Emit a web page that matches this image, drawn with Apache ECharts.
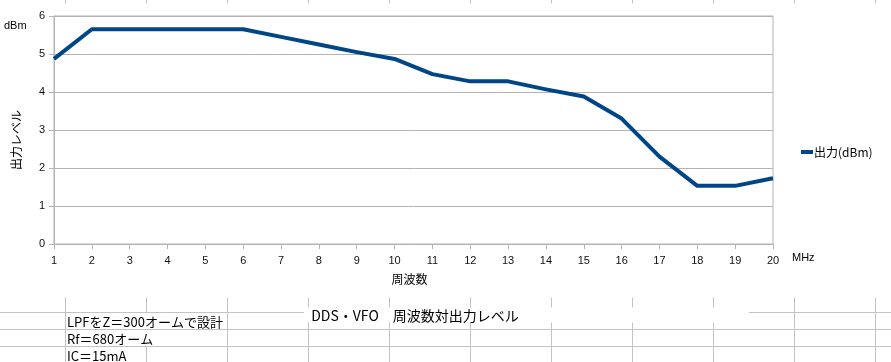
<!DOCTYPE html>
<html>
<head>
<meta charset="utf-8">
<script src="https://cdn.jsdelivr.net/npm/echarts@6/dist/echarts.min.js"></script>
<style>
html,body{margin:0;padding:0;background:#fff;}
#c{width:891px;height:362px;}
</style>
</head>
<body>
<div id="c"></div>
<script>
// ---- data ----
var categories = ['1','2','3','4','5','6','7','8','9','10','11','12','13','14','15','16','17','18','19','20'];
var outputDbm = [4.87, 5.65, 5.65, 5.65, 5.65, 5.65, 5.45, 5.25, 5.05, 4.87, 4.47, 4.28, 4.28, 4.07, 3.88, 3.3, 2.3, 1.53, 1.53, 1.73];
var seriesName = '出力(dBm)';
var chartTitle = 'DDS・VFO　周波数対出力レベル';
var xName = '周波数';
var yName = '出力レベル';
var yUnit = 'dBm';
var xUnit = 'MHz';
var notes = ['LPFをZ＝300オームで設計', 'Rf＝680オーム', 'IC＝15mA'];

// ---- spreadsheet background decoration ----
var cellXs = [65.5,146.5,227.5,308.5,389.5,470.5,551.5,632.5,713.5,794.5,875.5];
var rowYs = [312.5, 329.5, 346.5];
var gridColor = '#c3c3c3';
var g = [];
cellXs.forEach(function(x){
  g.push({type:'line', shape:{x1:x,y1:0,x2:x,y2:3.5}, style:{stroke:gridColor,lineWidth:1}, silent:true});
  g.push({type:'line', shape:{x1:x,y1:297.5,x2:x,y2:362}, style:{stroke:gridColor,lineWidth:1}, silent:true});
});
rowYs.forEach(function(y){
  g.push({type:'line', shape:{x1:0,y1:y,x2:891,y2:y}, style:{stroke:gridColor,lineWidth:1}, silent:true});
});
// overflow text cover & title box
g.push({type:'rect', shape:{x:66.5,y:313,width:160,height:16}, style:{fill:'#fff'}, silent:true});
g.push({type:'rect', shape:{x:66.5,y:330,width:92,height:16}, style:{fill:'#fff'}, silent:true});
g.push({type:'rect', shape:{x:304,y:307.5,width:445,height:15}, style:{fill:'#fff'}, silent:true});

var cjk = '"Noto Sans CJK JP", "Liberation Sans", sans-serif';
g.push({type:'text', x:415, y:315.5, style:{text:chartTitle, font:'14px ' + cjk, fill:'#000', textAlign:'center', textVerticalAlign:'middle'}, silent:true});
notes.forEach(function(t,i){
  g.push({type:'text', x:67, y:322 + i*17, style:{text:t, font:'13px ' + cjk, fill:'#000', textAlign:'left', textVerticalAlign:'middle'}, silent:true});
});
g.push({type:'text', x:4, y:26, style:{text:yUnit, font:'11px "Liberation Sans", sans-serif', fill:'#000', textAlign:'left', textVerticalAlign:'middle'}, silent:true});
g.push({type:'text', x:792, y:258, style:{text:xUnit, font:'11px "Liberation Sans", sans-serif', fill:'#000', textAlign:'left', textVerticalAlign:'middle'}, silent:true});
g.push({type:'text', x:409.5, y:279, style:{text:xName, font:'12px ' + cjk, fill:'#000', textAlign:'center', textVerticalAlign:'middle'}, silent:true});
g.push({type:'text', x:16, y:140, rotation:Math.PI/2, style:{text:yName, font:'12px ' + cjk, fill:'#000', textAlign:'center', textVerticalAlign:'middle'}, silent:true});

var chart = echarts.init(document.getElementById('c'), null, {renderer:'canvas'});
chart.setOption({
  backgroundColor:'#fff',
  animation:false,
  graphic:g,
  grid:{left:54, right:118, top:16, bottom:118, show:true, borderColor:'#b3b3b3', borderWidth:1, backgroundColor:'transparent'},
  legend:{
    data:[{name:seriesName, icon:'rect'}],
    left:796, top:141, itemWidth:12, itemHeight:4, itemGap:0,
    textStyle:{fontFamily:cjk, fontSize:12, color:'#000', padding:[0,0,0,-4]}
  },
  xAxis:{
    type:'category', data:categories, boundaryGap:false,
    axisLine:{lineStyle:{color:'#b3b3b3'}},
    axisTick:{show:true, length:5, inside:false, alignWithLabel:true, lineStyle:{color:'#b3b3b3'}},
    axisLabel:{color:'#111', fontSize:11, fontFamily:'"Liberation Sans", sans-serif', margin:11, interval:0},
    splitLine:{show:false}
  },
  yAxis:{
    type:'value', min:0, max:6, interval:1,
    axisLine:{show:true, lineStyle:{color:'#b3b3b3'}},
    axisTick:{show:true, length:5, lineStyle:{color:'#b3b3b3'}},
    axisLabel:{color:'#111', fontSize:11, fontFamily:'"Liberation Sans", sans-serif', margin:9},
    splitLine:{show:true, lineStyle:{color:'#b3b3b3', width:1}}
  },
  series:[{
    name:seriesName, type:'line', data:outputDbm,
    symbol:'none', smooth:false,
    lineStyle:{color:'#004586', width:4, join:'round'},
    itemStyle:{color:'#004586'}
  }]
});
</script>
</body>
</html>
